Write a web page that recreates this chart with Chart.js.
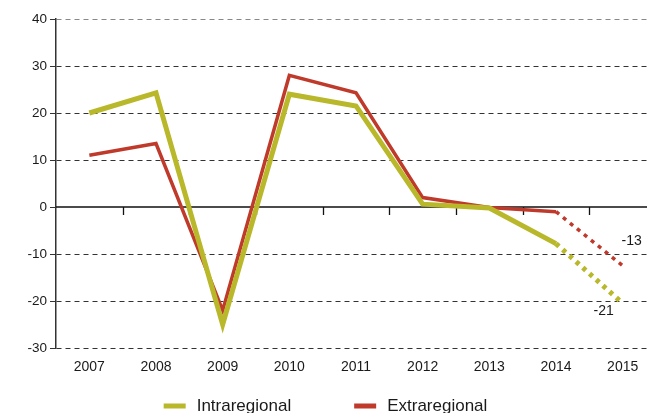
<!DOCTYPE html>
<html>
<head>
<meta charset="utf-8">
<script src="https://cdn.jsdelivr.net/npm/chart.js@4/dist/chart.umd.min.js"></script>
<style>
  html, body { margin: 0; padding: 0; overflow: hidden; background: #fff; }
  #wrap { width: 656px; height: 413px; }
</style>
</head>
<body>
<div id="wrap"><canvas id="tradeChart"></canvas></div>
<script>
// Datos del grafico
const years = ['2007', '2008', '2009', '2010', '2011', '2012', '2013', '2014', '2015'];
const intraregional = [20, 24.3, -25, 24, 21.5, 0.6, -0.2, -7.8, -20.5];
const extraregional = [11, 13.5, -22, 28, 24.3, 2, -0.1, -1, -12.5];
const endLabels = ['-21', '-13'];
const yTicks = { min: -30, max: 40, step: 10 };

const FONT = "'Liberation Sans', Arial, sans-serif";
const colorIntra = '#b8b82a';
const colorExtra = '#bf3a2b';

// linea punteada para la proyeccion 2014-2015
const dottedLast = ctx => ctx.p0DataIndex === years.length - 2 ? [4, 5] : undefined;

// linea del cero con marcas entre categorias
const zeroAxisPlugin = {
    id: 'zeroAxis',
    beforeDatasetsDraw(chart) {
        const { ctx, chartArea, scales } = chart;
        const y0 = scales.y.getPixelForValue(0);
        ctx.save();
        ctx.strokeStyle = '#111';
        ctx.lineWidth = 1.3;
        ctx.beginPath();
        ctx.moveTo(chartArea.left, y0);
        ctx.lineTo(chartArea.right, y0);
        for (let i = 0; i < years.length - 1; i++) {
            const x = Math.round((scales.x.getPixelForValue(i) + scales.x.getPixelForValue(i + 1)) / 2) + 0.5;
            ctx.moveTo(x, y0);
            ctx.lineTo(x, y0 + 8);
        }
        ctx.stroke();
        ctx.restore();
    }
};

// etiquetas al final de cada serie
const endLabelPlugin = {
    id: 'endLabels',
    afterDatasetsDraw(chart) {
        const { ctx } = chart;
        const offsets = [[-19, 8], [9, -25]];
        ctx.save();
        ctx.font = '14px ' + FONT;
        ctx.fillStyle = '#1a1a1a';
        ctx.textAlign = 'center';
        ctx.textBaseline = 'middle';
        chart.data.datasets.forEach((ds, i) => {
            const pts = chart.getDatasetMeta(i).data;
            const p = pts[pts.length - 1];
            ctx.fillText(endLabels[i], p.x + offsets[i][0], p.y + offsets[i][1]);
        });
        ctx.restore();
    }
};

// leyenda inferior
const bottomLegendPlugin = {
    id: 'bottomLegend',
    afterDraw(chart) {
        const { ctx, chartArea } = chart;
        const y = chartArea.bottom + 58;
        const gap = 63;
        ctx.save();
        ctx.font = '17px ' + FONT;
        ctx.textBaseline = 'middle';
        const items = chart.data.datasets.map(ds => ({
            label: ds.label,
            color: ds.borderColor,
            w: 22 + 11 + ctx.measureText(ds.label).width
        }));
        const total = items.reduce((s, it) => s + it.w, 0) + gap * (items.length - 1);
        let x = (chartArea.left + 647) / 2 - total / 2 - 26;
        items.forEach(it => {
            ctx.fillStyle = it.color;
            ctx.fillRect(x, y - 2.5, 22, 5);
            ctx.fillStyle = '#1a1a1a';
            ctx.fillText(it.label, x + 33, y);
            x += it.w + gap;
        });
        ctx.restore();
    }
};

const chartCtx = document.getElementById('tradeChart');
new Chart(chartCtx, {
    type: 'line',
    data: {
        labels: years,
        datasets: [{
            label: 'Intraregional',
            data: intraregional,
            borderColor: colorIntra,
            borderWidth: 5,
            segment: { borderDash: dottedLast }
        }, {
            label: 'Extraregional',
            data: extraregional,
            borderColor: colorExtra,
            borderWidth: 3.5,
            segment: { borderDash: dottedLast }
        }]
    },
    options: {
        responsive: true,
        maintainAspectRatio: false,
        animation: false,
        layout: { padding: { top: 19, left: 0, right: 0, bottom: 0 } },
        elements: {
            point: { radius: 0, hoverRadius: 0 },
            line: { tension: 0, borderJoinStyle: 'miter', borderCapStyle: 'butt' }
        },
        scales: {
            x: {
                offset: true,
                grid: { display: false },
                border: { display: false },
                ticks: { color: '#1a1a1a', font: { family: FONT, size: 14 }, padding: 3, maxRotation: 0 },
                afterFit(scale) { scale.height = 65; }
            },
            y: {
                min: yTicks.min,
                max: yTicks.max,
                ticks: { stepSize: yTicks.step, color: '#1a1a1a', font: { family: FONT, size: 13.5 }, padding: 3 },
                grid: {
                    color: ctx => ctx.tick.value === 0 ? 'rgba(0,0,0,0)' : (ctx.tick.value === 40 ? '#888' : '#333'),
                    lineWidth: 1,
                    tickLength: 6,
                    tickColor: '#333'
                },
                border: {
                    display: true,
                    color: '#333',
                    width: 1.5,
                    dash: ctx => ctx.tick ? [5, 4] : []
                },
                afterFit(scale) { scale.width = 56; }
            }
        },
        plugins: {
            legend: { display: false },
            tooltip: { enabled: false }
        }
    },
    plugins: [zeroAxisPlugin, endLabelPlugin, bottomLegendPlugin]
});
</script>
</body>
</html>
